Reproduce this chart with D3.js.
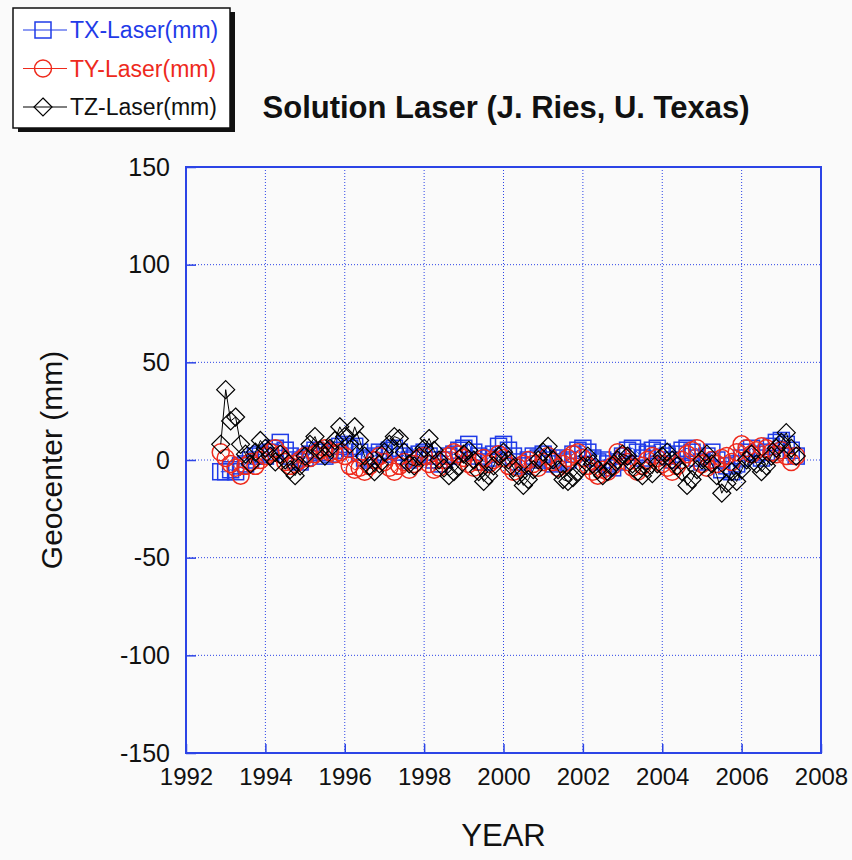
<!DOCTYPE html>
<html>
<head>
<meta charset="utf-8">
<script src="https://cdn.jsdelivr.net/npm/d3@7"></script>
<style>
  body { margin: 0; background: #fafafa; }
  text { font-family: "Liberation Sans", Arial, sans-serif; }
</style>
</head>
<body>
<svg id="plot"></svg>
<script>
// Sampling epochs (every 1.5 months, Nov 1992 - May 2007)
const years = d3.range(117).map(i => 1992.875 + i * 0.125);

// Geocenter values in mm, one line per year
const tx = [
  -6,
  -6, -5, -6, -3, -2, 0, 2, 3,
  2, 4, 6, 9, 5, 2, 0, -1,
  1, 3, 5, 4, 2, 3, 5, 7,
  8, 6, 7, 4, 1, 0, 2, 4,
  3, 5, 6, 4, 2, 0, 1, 3,
  4, 2, 0, -2, 0, 2, 3, 5,
  6, 8, 4, 2, -1, 1, 3, 7,
  8, 5, 2, -1, -3, 0, 2, 1,
  3, 0, -2, 1, -1, 0, 3, 5,
  6, 4, 1, -1, 0, -2, -4, -1,
  2, 5, 6, 4, 1, 3, 5, 6,
  4, 2, 0, 3, 5, 6, 4, 1,
  -1, 2, 4, 0, -5, -3, -6, -2,
  1, 4, 6, 3, 1, 4, 7, 9,
  10, 8, 5, 2
];
const ty = [
  4,
  1, -2, -4, -8, -3, -1, -3, 0,
  2, 4, 6, 3, -1, -3, -2, 0,
  2, 1, 3, 5, 6, 4, 3, 4,
  2, -3, -5, -4, -6, -3, 0, 2,
  -1, -4, -6, -3, -1, -5, -2, 1,
  2, -2, -5, -4, 0, 2, 4, 3,
  1, -2, -4, -1, 1, -2, 0, 3,
  1, -3, -6, -4, -2, 0, -2, -4,
  -1, 2, -1, -4, -2, 1, 3, 4,
  1, -3, -6, -8, -5, -6, -3, 4,
  2, -1, -4, -6, -3, 0, 2, 1,
  -2, -4, -6, -3, 0, 3, 5, 6,
  -2, -4, 0, -2, 1, 2, -1, 4,
  8, 6, 3, 5, 7, 6, 4, 3,
  5, 2, -1, 2
];
const tz = [
  8,
  36, 20, 22, 8, 3, -2, 4, 10,
  6, 2, -1, 3, 0, -5, -8, -3,
  2, 8, 12, 5, 2, 6, 10, 17,
  12, 8, 17, 10, 2, -3, -6, -2,
  4, 8, 12, 11, 4, -2, -3, 2,
  6, 11, 5, 0, -4, -8, -6, -3,
  3, 5, 0, -6, -11, -8, -3, 2,
  4, 0, -4, -8, -13, -10, -5, 0,
  4, 7, 0, -5, -10, -11, -9, -6,
  -3, 2, -2, -5, -8, -6, -3, 0,
  3, 2, -2, -6, -8, -4, -7, -2,
  2, 4, 0, -3, -6, -13, -10, -5,
  0, 3, -2, -8, -17, -12, -6, -11,
  -5, 0, 3, -2, -6, -3, 2, 6,
  9, 14, 6, 2
];

const seriesNames = ["TX-Laser(mm)", "TY-Laser(mm)", "TZ-Laser(mm)"];
const xTicks = [1992, 1994, 1996, 1998, 2000, 2002, 2004, 2006, 2008];
const yTicks = [-150, -100, -50, 0, 50, 100, 150];

const W = 852, H = 860;
const margin = { top: 167, right: 31, bottom: 107, left: 186 };
const width = W - margin.left - margin.right;
const height = H - margin.top - margin.bottom;
const axisBlue = "#2c44e6";

const series = [
  { name: seriesNames[0], values: tx, color: "#1f3be8", shape: "square" },
  { name: seriesNames[1], values: ty, color: "#ee2a1c", shape: "circle" },
  { name: seriesNames[2], values: tz, color: "#000000", shape: "diamond" }
];

const root = d3.select("#plot")
  .attr("width", W)
  .attr("height", H)
  .style("background", "#fafafa");

const svg = root.append("g")
  .attr("transform", "translate(" + margin.left + "," + margin.top + ")");

// Scales
const x = d3.scaleLinear().domain([1992, 2008]).range([0, width]);
const y = d3.scaleLinear().domain([-150, 150]).range([height, 0]);

// Dotted grid
svg.append("g").selectAll("line")
  .data(xTicks.slice(1, -1))
  .enter().append("line")
  .attr("x1", d => x(d)).attr("x2", d => x(d))
  .attr("y1", 0).attr("y2", height)
  .attr("stroke", axisBlue).attr("stroke-width", 1)
  .attr("stroke-dasharray", "1,2");

svg.append("g").selectAll("line")
  .data(yTicks.slice(1, -1))
  .enter().append("line")
  .attr("x1", 0).attr("x2", width)
  .attr("y1", d => y(d)).attr("y2", d => y(d))
  .attr("stroke", axisBlue).attr("stroke-width", 1)
  .attr("stroke-dasharray", "1,2");

// Axes (ticks pointing inwards), plain hyphen for negatives
const xAxis = svg.append("g")
  .attr("transform", "translate(0," + height + ")")
  .call(d3.axisBottom(x).tickValues(xTicks).tickFormat(d => String(d))
    .tickSizeInner(-9).tickSizeOuter(0).tickPadding(15));
xAxis.select(".domain").remove();
xAxis.selectAll("line").attr("stroke", axisBlue).attr("stroke-width", 1.5);
xAxis.selectAll("text").attr("fill", "#111").style("font-size", "24px");

const yAxis = svg.append("g")
  .call(d3.axisLeft(y).tickValues(yTicks).tickFormat(d => String(d))
    .tickSizeInner(-10).tickSizeOuter(0).tickPadding(16));
yAxis.select(".domain").remove();
yAxis.selectAll("line").attr("stroke", axisBlue).attr("stroke-width", 1.5);
yAxis.selectAll("text").attr("fill", "#111").style("font-size", "25px");

// Frame
svg.append("rect")
  .attr("width", width).attr("height", height)
  .attr("fill", "none").attr("stroke", axisBlue).attr("stroke-width", 2);

// Marker shapes
function marker(sel, shape, color) {
  if (shape === "square") {
    sel.append("rect").attr("x", -8).attr("y", -8).attr("width", 16).attr("height", 16)
      .attr("fill", "none").attr("stroke", color).attr("stroke-width", 1.5);
  } else if (shape === "circle") {
    sel.append("circle").attr("r", 8.5)
      .attr("fill", "none").attr("stroke", color).attr("stroke-width", 1.5);
  } else {
    sel.append("path").attr("d", "M0,-9L9,0L0,9L-9,0Z")
      .attr("fill", "none").attr("stroke", color).attr("stroke-width", 1.2);
  }
}

const line = d3.line()
  .x((d, i) => x(years[i]))
  .y(d => y(d));

series.forEach(function(s) {
  const g = svg.append("g");
  g.append("path")
    .datum(s.values)
    .attr("d", line)
    .attr("fill", "none")
    .attr("stroke", s.color)
    .attr("stroke-width", 1);
  g.selectAll(".pt")
    .data(s.values)
    .enter().append("g")
    .attr("class", "pt")
    .attr("transform", (d, i) => "translate(" + x(years[i]) + "," + y(d) + ")")
    .each(function() { marker(d3.select(this), s.shape, s.color); });
});

// Axis labels
root.append("text")
  .attr("x", margin.left + width / 2)
  .attr("y", 846)
  .attr("text-anchor", "middle")
  .style("font-size", "31px")
  .attr("fill", "#111")
  .text("YEAR");

root.append("text")
  .attr("transform", "translate(62," + (margin.top + height / 2) + ") rotate(-90)")
  .attr("text-anchor", "middle")
  .style("font-size", "30px")
  .attr("fill", "#111")
  .text("Geocenter (mm)");

// Title
root.append("text")
  .attr("x", 506)
  .attr("y", 118)
  .attr("text-anchor", "middle")
  .style("font-size", "31px")
  .style("font-weight", "bold")
  .attr("fill", "#111")
  .text("Solution Laser (J. Ries, U. Texas)");

// Legend with drop shadow
const legend = root.append("g");
legend.append("rect")
  .attr("x", 18).attr("y", 12).attr("width", 217).attr("height", 120)
  .attr("fill", "#111");
legend.append("rect")
  .attr("x", 13).attr("y", 8).attr("width", 217).attr("height", 120)
  .attr("fill", "#ffffff").attr("stroke", "#111").attr("stroke-width", 1.5);

series.forEach(function(s, i) {
  const row = legend.append("g")
    .attr("transform", "translate(0," + (30 + i * 38.5) + ")");
  row.append("line")
    .attr("x1", 23).attr("x2", 67)
    .attr("stroke", s.color).attr("stroke-width", 1.2);
  marker(row.append("g").attr("transform", "translate(43,0)"), s.shape, s.color);
  row.append("text")
    .attr("x", 70).attr("dy", "0.35em")
    .style("font-size", "23px")
    .attr("fill", s.color === "#000000" ? "#111" : s.color)
    .text(s.name);
});
</script>
</body>
</html>
